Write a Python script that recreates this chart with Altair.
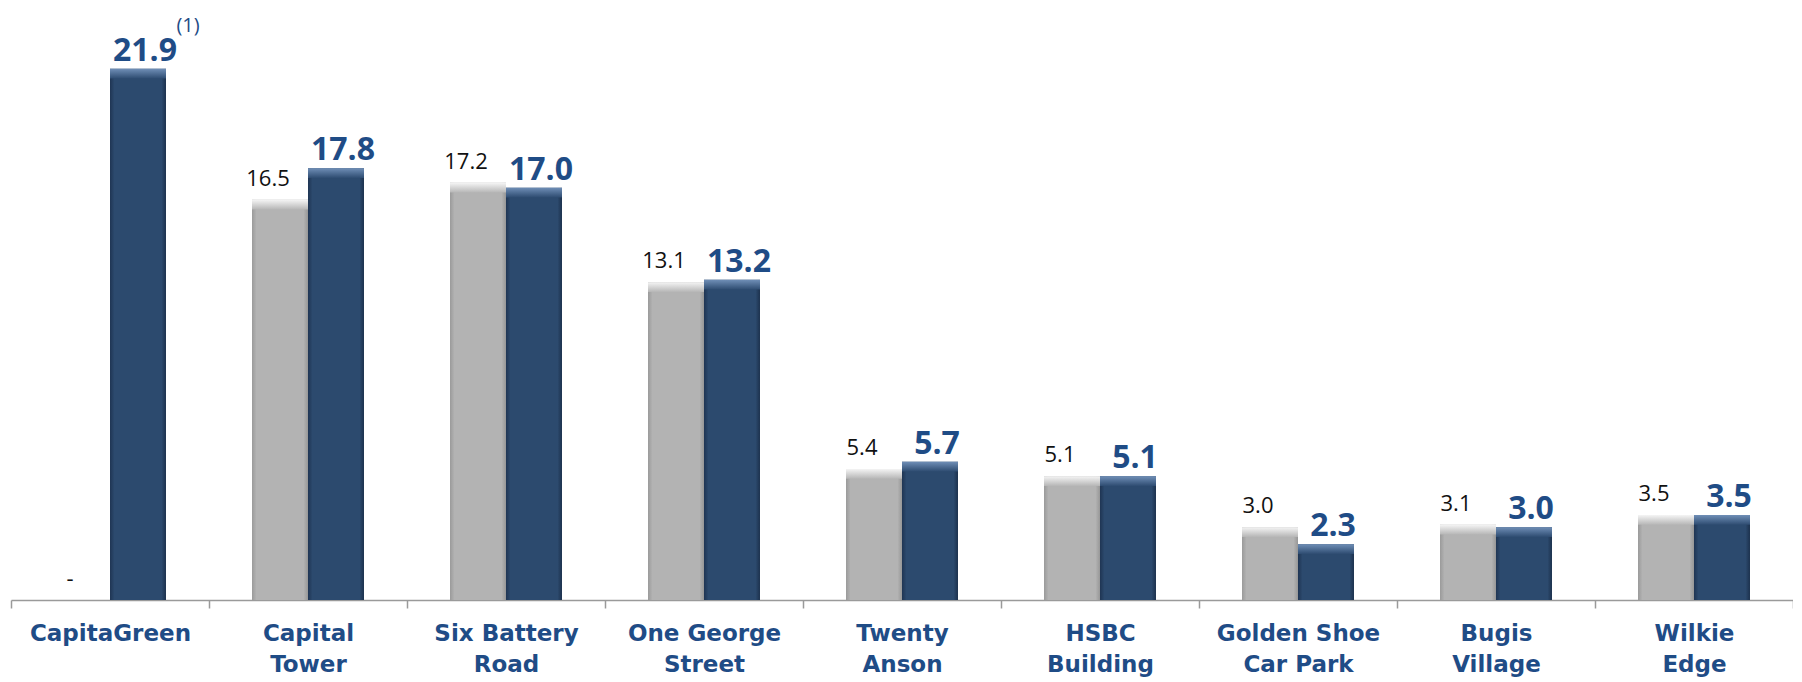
import altair as alt
import pandas as pd

categories = ["CapitaGreen", "Capital|Tower", "Six Battery|Road", "One George|Street",
              "Twenty|Anson", "HSBC|Building", "Golden Shoe|Car Park", "Bugis|Village", "Wilkie|Edge"]
prev_values = [None, 16.5, 17.2, 13.1, 5.4, 5.1, 3.0, 3.1, 3.5]
curr_values = [21.9, 17.8, 17.0, 13.2, 5.7, 5.1, 2.3, 3.0, 3.5]
footnotes = ["(1)", "", "", "", "", "", "", "", ""]
series = ["prev", "curr"]

rows = []
for c, p, v, f in zip(categories, prev_values, curr_values, footnotes):
    rows.append({"cat": c, "series": "prev", "value": p, "note": ""})
    rows.append({"cat": c, "series": "curr", "value": v, "note": f})
df = pd.DataFrame(rows)

NAVY = "#2C4A6E"
TEXT_BLUE = "#1F4C86"


def hgrad(edge, mid, edge2):
    return alt.LinearGradient(
        gradient="linear", x1=0, y1=0, x2=1, y2=0,
        stops=[alt.GradientStop(color=edge, offset=0),
               alt.GradientStop(color=mid, offset=0.08),
               alt.GradientStop(color=mid, offset=0.92),
               alt.GradientStop(color=edge2, offset=1)])


def vgrad(top, bottom):
    return alt.LinearGradient(
        gradient="linear", x1=0, y1=0, x2=0, y2=1,
        stops=[alt.GradientStop(color=top, offset=0),
               alt.GradientStop(color=bottom, offset=1)])


base = alt.Chart(df).transform_calculate(
    ypos="datum.value == null ? 0 : datum.value",
    label="datum.value == null ? '-' : format(datum.value, '.1f')",
    hl="datum.value == null ? 0 : max(datum.value - 0.4, 0)",
)

x_enc = alt.X(
    "cat:N", sort=categories, title=None,
    scale=alt.Scale(paddingInner=0, paddingOuter=0),
    axis=alt.Axis(
        labelExpr="split(datum.label, '|')",
        labelAngle=0, labelFont="DejaVu Sans", labelFontWeight="bold", labelFontSize=23,
        labelColor=TEXT_BLUE, labelLineHeight=31, labelPadding=14, labelLimit=0,
        labelOverlap=False,
        domainColor="#9A9A9A", domainWidth=1.5, tickColor="#9A9A9A", tickWidth=1.5,
        tickSize=8, tickBand="extent", grid=False,
    ),
)
xoff = alt.XOffset("series:N", sort=series,
                   scale=alt.Scale(domain=series, paddingInner=0, paddingOuter=0.768))
y_scale = alt.Scale(domain=[0, 24.41], nice=False, zero=True)
y_enc = alt.Y("ypos:Q", scale=y_scale, axis=None)

gray_bars = base.transform_filter("datum.series == 'prev' && datum.value != null").mark_bar(
    color=hgrad("#9A9A9A", "#B3B3B3", "#979797")
).encode(x=x_enc, xOffset=xoff, y=y_enc)

navy_bars = base.transform_filter("datum.series == 'curr'").mark_bar(
    color=hgrad("#1F3553", NAVY, "#1C314D")
).encode(x=x_enc, xOffset=xoff, y=y_enc)

gray_hl = base.transform_filter("datum.series == 'prev' && datum.value != null").mark_bar(
    color=vgrad("#F4F4F4", "#B6B6B6")
).encode(x=x_enc, xOffset=xoff, y=alt.Y("ypos:Q", scale=y_scale, axis=None), y2="hl:Q")

navy_hl = base.transform_filter("datum.series == 'curr'").mark_bar(
    color=vgrad("#6F8EB6", "#2E4C71")
).encode(x=x_enc, xOffset=xoff, y=alt.Y("ypos:Q", scale=y_scale, axis=None), y2="hl:Q")

gray_text = base.transform_filter("datum.series == 'prev'").mark_text(
    font="Open Sans", fontSize=22, color="#111111", baseline="alphabetic", dy=-14, dx=-12
).encode(x=x_enc, xOffset=xoff, y=y_enc, text="label:N")

navy_text = base.transform_filter("datum.series == 'curr'").mark_text(
    font="Open Sans", fontWeight="bold", fontSize=32, color=TEXT_BLUE, baseline="alphabetic", dy=-8, dx=7
).encode(x=x_enc, xOffset=xoff, y=y_enc, text="label:N")

note_text = base.transform_filter("datum.note != ''").mark_text(
    font="Open Sans", fontSize=20, color=TEXT_BLUE, baseline="alphabetic", dy=-37, dx=50
).encode(x=x_enc, xOffset=xoff, y=y_enc, text="note:N")

chart = alt.layer(gray_bars, navy_bars, gray_hl, navy_hl, gray_text, navy_text, note_text).properties(
    width=1782, height=592,
    autosize=alt.AutoSizeParams(type="none"),
    padding={"left": 3, "top": 0, "right": 0, "bottom": 78},
).configure_view(stroke=None)

chart.save("out.html", embed_options={"renderer": "svg", "actions": False})
